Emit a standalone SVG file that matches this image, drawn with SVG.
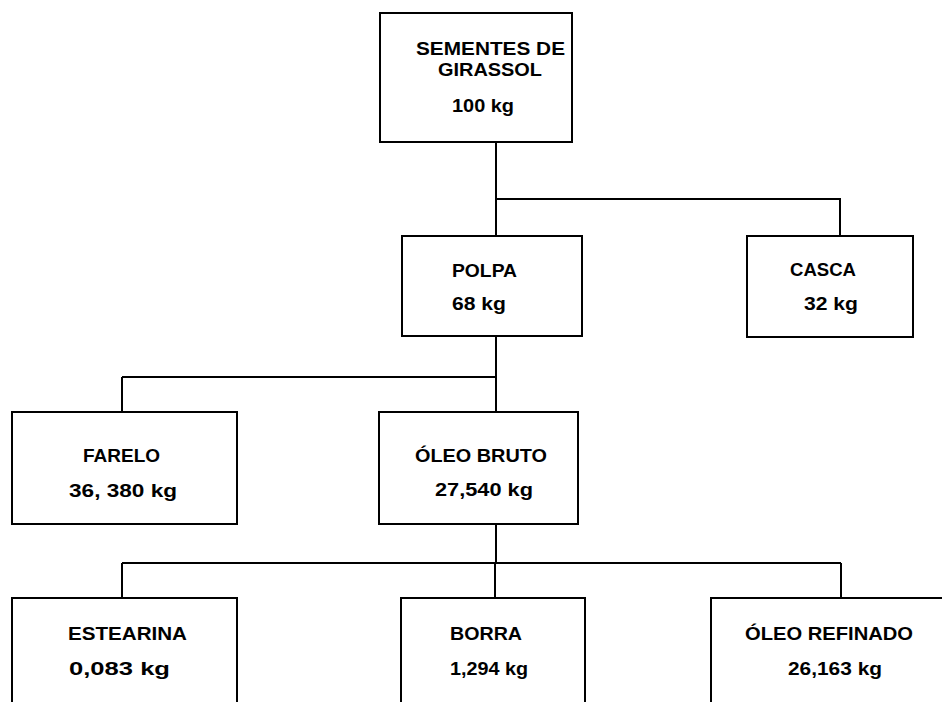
<svg xmlns="http://www.w3.org/2000/svg" width="942" height="702" viewBox="0 0 942 702">
<style>
.box{fill:none;stroke:#000;stroke-width:2}
.con{fill:none;stroke:#000;stroke-width:2}
text{font-family:"Liberation Sans",Arial,sans-serif;font-weight:bold;font-size:18px;fill:#000}
</style>
<rect width="942" height="702" fill="#fff"/>
<g id="connectors">
<path class="con" d="M496 142 V199 M496 199 H840 V236 M496 199 V236"/>
<path class="con" d="M496 336 V377 M122 377 H496 V412 M122 377 V412"/>
<path class="con" d="M496 524 V563 M122 563 H841 M122 563 V598 M495 563 V598 M841 563 V598"/>
</g>
<g id="sementes">
<rect class="box" x="380" y="13" width="192" height="129"/>
<text x="416" y="55" textLength="149" lengthAdjust="spacingAndGlyphs">SEMENTES DE</text>
<text x="438" y="76" textLength="104" lengthAdjust="spacingAndGlyphs">GIRASSOL</text>
<text x="452" y="112" textLength="62" lengthAdjust="spacingAndGlyphs">100 kg</text>
</g>
<g id="polpa">
<rect class="box" x="402" y="236" width="180" height="100"/>
<text x="452" y="277" textLength="65" lengthAdjust="spacingAndGlyphs">POLPA</text>
<text x="452" y="310" textLength="54" lengthAdjust="spacingAndGlyphs">68 kg</text>
</g>
<g id="casca">
<rect class="box" x="747" y="236" width="166" height="101"/>
<text x="790" y="276" textLength="66" lengthAdjust="spacingAndGlyphs">CASCA</text>
<text x="804" y="310" textLength="54" lengthAdjust="spacingAndGlyphs">32 kg</text>
</g>
<g id="farelo">
<rect class="box" x="12" y="412" width="225" height="112"/>
<text x="83" y="462" textLength="77" lengthAdjust="spacingAndGlyphs">FARELO</text>
<text x="69" y="497" textLength="108" lengthAdjust="spacingAndGlyphs">36, 380 kg</text>
</g>
<g id="oleo-bruto">
<rect class="box" x="379" y="412" width="199" height="112"/>
<text x="415" y="462" textLength="132" lengthAdjust="spacingAndGlyphs">ÓLEO BRUTO</text>
<text x="435" y="496" textLength="98" lengthAdjust="spacingAndGlyphs">27,540 kg</text>
</g>
<g id="estearina">
<path class="box" d="M12 703 V598 H237 V703"/>
<text x="68" y="640" textLength="119" lengthAdjust="spacingAndGlyphs">ESTEARINA</text>
<text x="69" y="675" textLength="101" lengthAdjust="spacingAndGlyphs">0,083 kg</text>
</g>
<g id="borra">
<path class="box" d="M401 703 V598 H585 V703"/>
<text x="450" y="640" textLength="72" lengthAdjust="spacingAndGlyphs">BORRA</text>
<text x="450" y="675" textLength="78" lengthAdjust="spacingAndGlyphs">1,294 kg</text>
</g>
<g id="oleo-refinado">
<path class="box" d="M711 703 V598 H943"/>
<text x="745" y="640" textLength="168" lengthAdjust="spacingAndGlyphs">ÓLEO REFINADO</text>
<text x="788" y="675" textLength="94" lengthAdjust="spacingAndGlyphs">26,163 kg</text>
</g>
</svg>
